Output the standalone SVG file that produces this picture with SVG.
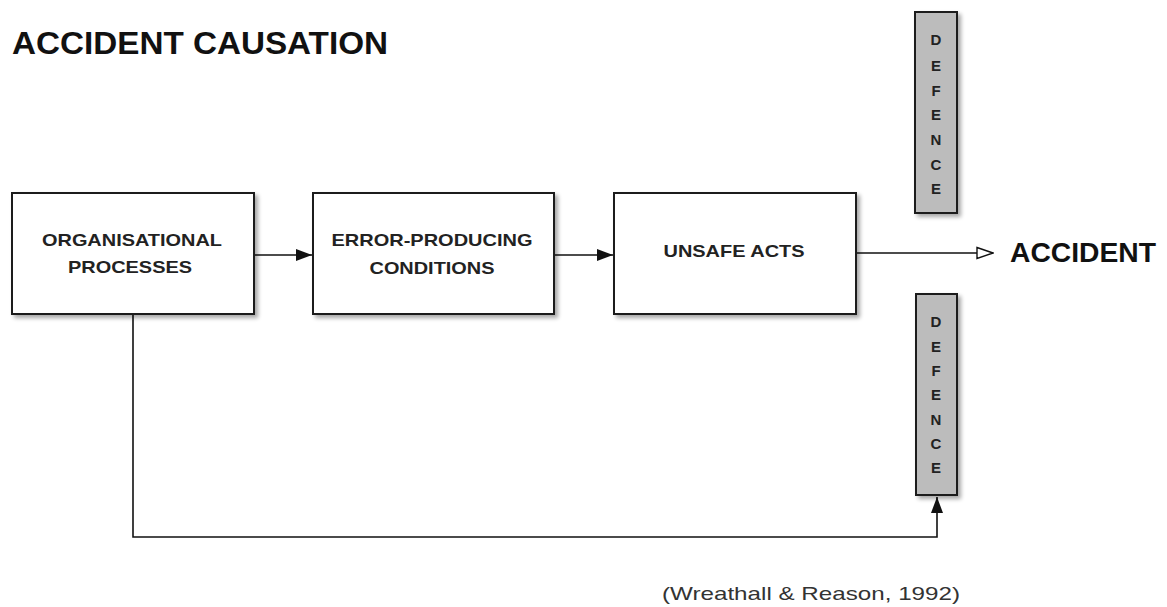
<svg xmlns="http://www.w3.org/2000/svg" width="1167" height="607" viewBox="0 0 1167 607">
<style>
.box{fill:#fff;stroke:#1a1a1a;stroke-width:2;filter:url(#sh)}
.def{fill:#bcbcbc;stroke:#1a1a1a;stroke-width:2;filter:url(#sh)}
.lbl{font-family:"Liberation Sans",Arial,sans-serif;font-weight:bold;fill:#222;font-size:17px;text-anchor:middle}
.dl{font-family:"Liberation Sans",Arial,sans-serif;font-weight:bold;fill:#222;font-size:15px;text-anchor:middle}
.big{font-family:"Liberation Sans",Arial,sans-serif;font-weight:bold;fill:#111}
.ln{fill:none;stroke:#111;stroke-width:1.6}
</style>
<defs>
<filter id="sh" x="-20%" y="-20%" width="140%" height="140%">
<feGaussianBlur in="SourceAlpha" stdDeviation="2"/>
<feOffset dx="3" dy="3" result="b"/>
<feComponentTransfer><feFuncA type="linear" slope="0.35"/></feComponentTransfer>
<feMerge><feMergeNode/><feMergeNode in="SourceGraphic"/></feMerge>
</filter>
<marker id="af" viewBox="0 0 16 12" refX="16" refY="6" markerWidth="16" markerHeight="12" markerUnits="userSpaceOnUse" orient="auto"><path d="M0,0L16,6L0,12Z" fill="#111"/></marker>
<marker id="ao" viewBox="0 0 18 14" refX="17" refY="7" markerWidth="18" markerHeight="14" markerUnits="userSpaceOnUse" orient="auto"><path d="M1,1.5L17,7L1,12.5Z" fill="#fff" stroke="#111" stroke-width="1.4"/></marker>
</defs>
<rect width="1167" height="607" fill="#fff"/>
<text class="big" x="12" y="54" font-size="31" textLength="376" lengthAdjust="spacingAndGlyphs">ACCIDENT CAUSATION</text>
<g id="connectors">
<line class="ln" x1="254" y1="255" x2="312" y2="255" marker-end="url(#af)"/>
<line class="ln" x1="554" y1="255" x2="613" y2="255" marker-end="url(#af)"/>
<line class="ln" x1="856" y1="253" x2="993" y2="253" marker-end="url(#ao)"/>
<polyline class="ln" points="133,314 133,537 937,537 937,497" marker-end="url(#af)"/>
</g>
<g id="n1">
<rect class="box" x="12" y="193" width="242" height="121"/>
<text class="lbl" x="132" y="246" textLength="180" lengthAdjust="spacingAndGlyphs">ORGANISATIONAL</text>
<text class="lbl" x="130" y="273" textLength="124" lengthAdjust="spacingAndGlyphs">PROCESSES</text>
</g>
<g id="n2">
<rect class="box" x="313" y="193" width="241" height="121"/>
<text class="lbl" x="432" y="246" textLength="201" lengthAdjust="spacingAndGlyphs">ERROR-PRODUCING</text>
<text class="lbl" x="432" y="274" textLength="125" lengthAdjust="spacingAndGlyphs">CONDITIONS</text>
</g>
<g id="n3">
<rect class="box" x="614" y="193" width="242" height="121"/>
<text class="lbl" x="734" y="257" textLength="141" lengthAdjust="spacingAndGlyphs">UNSAFE ACTS</text>
</g>
<g id="accident">
<text class="big" x="1010" y="262" font-size="27" textLength="146" lengthAdjust="spacingAndGlyphs">ACCIDENT</text>
</g>
<g id="defence-top">
<rect class="def" x="915" y="12" width="42" height="201"/>
<text class="dl" x="936" y="45">D</text>
<text class="dl" x="936" y="71">E</text>
<text class="dl" x="936" y="96">F</text>
<text class="dl" x="936" y="120">E</text>
<text class="dl" x="936" y="145">N</text>
<text class="dl" x="936" y="170">C</text>
<text class="dl" x="936" y="194">E</text>
</g>
<g id="defence-bottom">
<rect class="def" x="916" y="294" width="41" height="201"/>
<text class="dl" x="936" y="327">D</text>
<text class="dl" x="936" y="352">E</text>
<text class="dl" x="936" y="376">F</text>
<text class="dl" x="936" y="400">E</text>
<text class="dl" x="936" y="425">N</text>
<text class="dl" x="936" y="449">C</text>
<text class="dl" x="936" y="473">E</text>
</g>
<text x="662" y="600" font-family="'Liberation Sans',Arial,sans-serif" font-size="19" fill="#333" textLength="298" lengthAdjust="spacingAndGlyphs">(Wreathall &amp; Reason, 1992)</text>
</svg>
